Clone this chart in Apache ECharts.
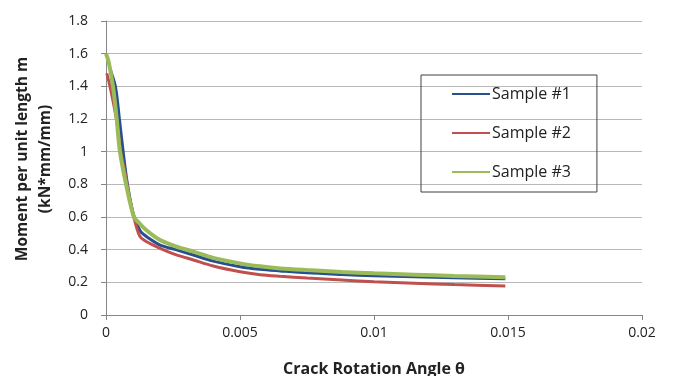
<!DOCTYPE html>
<html>
<head>
<meta charset="utf-8">
<script src="https://cdn.jsdelivr.net/npm/echarts@6/dist/echarts.min.js"></script>
<style>
  html, body { margin: 0; padding: 0; background: #fff; }
  #chart { width: 674px; height: 376px; }
</style>
</head>
<body>
<div id="chart"></div>
<script>
// values: [angle, moment]
const sample1 = [
  [0.00012, 1.52], [0.00035, 1.4], [0.0005, 1.2], [0.00064, 1.0], [0.0008, 0.8],
  [0.001, 0.63], [0.00115, 0.56], [0.0013, 0.51], [0.0016, 0.47], [0.002, 0.43],
  [0.0026, 0.4], [0.00326, 0.367], [0.004, 0.33], [0.005, 0.296], [0.00575, 0.28],
  [0.0065, 0.27], [0.0075, 0.258], [0.0088, 0.248], [0.01, 0.24], [0.0115, 0.234],
  [0.013, 0.228], [0.0149, 0.222]
];
const sample2 = [
  [0.00003, 1.48], [0.00015, 1.4], [0.0004, 1.19], [0.00055, 1.0], [0.0007, 0.88],
  [0.0009, 0.7], [0.0011, 0.56], [0.00127, 0.48], [0.0015, 0.45], [0.002, 0.41],
  [0.0026, 0.37], [0.00326, 0.337], [0.004, 0.3], [0.005, 0.265], [0.00575, 0.247],
  [0.0065, 0.237], [0.0075, 0.226], [0.0088, 0.214], [0.01, 0.204], [0.0115, 0.195],
  [0.013, 0.186], [0.0149, 0.178]
];
const sample3 = [
  [0, 1.6], [0.0001, 1.55], [0.00026, 1.4], [0.0004, 1.2], [0.00052, 1.0],
  [0.0008, 0.76], [0.00104, 0.6], [0.0012, 0.57], [0.0015, 0.52], [0.002, 0.46],
  [0.0026, 0.42], [0.00326, 0.388], [0.004, 0.35], [0.005, 0.316], [0.00575, 0.298],
  [0.0065, 0.285], [0.0075, 0.275], [0.0088, 0.264], [0.01, 0.255], [0.0115, 0.247],
  [0.013, 0.239], [0.0149, 0.231]
];
const seriesNames = ['Sample #1', 'Sample #2', 'Sample #3'];
const seriesColors = ['#27508f', '#c0504d', '#9bbb59'];

const chart = echarts.init(document.getElementById('chart'));
const font = '"Open Sans", "Liberation Sans", sans-serif';

const option = {
  animation: false,
  textStyle: { fontFamily: font },
  grid: { left: 106, right: 32, top: 21, bottom: 61, outerBoundsMode: 'none', containLabel: false },
  legend: {
    orient: 'vertical',
    left: 421,
    top: 75,
    padding: [11, 26, 12, 31],
    icon: 'rect',
    itemWidth: 38,
    itemHeight: 2,
    itemGap: 23,
    borderColor: '#404040',
    borderWidth: 1,
    textStyle: { fontSize: 16, color: '#222', lineHeight: 14, padding: [0, 0, 0, -3] },
    data: seriesNames
  },
  xAxis: {
    type: 'value',
    min: 0,
    max: 0.02,
    interval: 0.005,
    name: 'Crack Rotation Angle θ',
    nameLocation: 'middle',
    nameGap: 46,
    nameTextStyle: { fontSize: 16, fontWeight: 'bold', color: '#222' },
    axisLine: { lineStyle: { color: '#868686' } },
    axisTick: { show: true, length: 5, lineStyle: { color: '#868686' } },
    axisLabel: { fontSize: 14, color: '#222', margin: 11 },
    splitLine: { show: false }
  },
  yAxis: {
    type: 'value',
    min: 0,
    max: 1.8,
    interval: 0.2,
    name: 'Moment per unit length m\n(kN*mm/mm)',
    nameLocation: 'middle',
    nameGap: 46,
    nameTextStyle: {
      fontSize: 15.5, fontWeight: 'bold', color: '#222', lineHeight: 23,
      padding: [0, 0, 0, 18]
    },
    axisLine: { show: true, lineStyle: { color: '#868686' } },
    axisTick: { show: true, length: 5, lineStyle: { color: '#868686' } },
    axisLabel: { fontSize: 14, color: '#222', margin: 18 },
    splitLine: { lineStyle: { color: '#b8b8b8' } }
  },
  series: [sample1, sample2, sample3].map((d, i) => ({
    name: seriesNames[i],
    type: 'line',
    data: d,
    smooth: 0.3,
    symbol: 'none',
    color: seriesColors[i],
    lineStyle: { width: i === 2 ? 4 : 3, color: seriesColors[i] }
  }))
};

chart.setOption(option);
</script>
</body>
</html>
